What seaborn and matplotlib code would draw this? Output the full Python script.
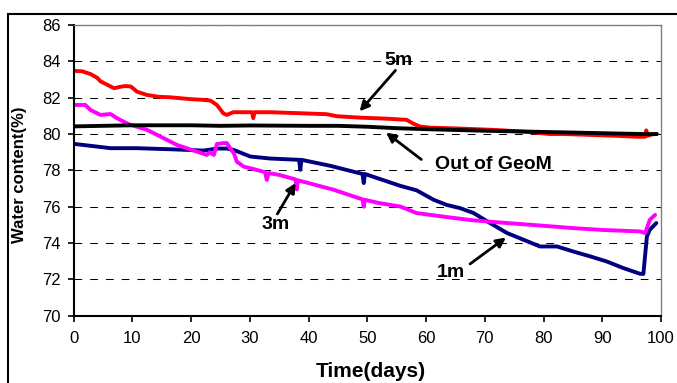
import matplotlib
matplotlib.use("Agg")
import matplotlib.pyplot as plt
import matplotlib.patches as mpatches
import pandas as pd
import seaborn as sns

# readings taken off the chart (day, water content %)
DAYS_5M = [0, 1.5, 2.9, 4.0, 4.6, 5.5, 6.9, 8.0, 8.8, 9.7, 10.2, 10.8, 12.5, 14.5,
           16.5, 19.9, 22.0, 23.3, 24.4, 25.5, 26.1, 27.2, 30.4, 30.6, 30.8, 33.5,
           38.0, 43.1, 44.8, 48.8, 53.0, 56.7, 57.9, 59.0, 60.7, 65.8, 72.0, 77.0,
           81.1, 83.4, 88.0, 92.5, 95.9, 97.3, 97.5, 97.7, 98.6, 99.2]
WC_5M = [83.48, 83.45, 83.3, 83.1, 82.9, 82.75, 82.52, 82.6, 82.64, 82.62, 82.5,
         82.33, 82.15, 82.05, 82.02, 81.92, 81.88, 81.84, 81.6, 81.14, 81.05, 81.2,
         81.2, 80.87, 81.2, 81.2, 81.15, 81.09, 80.98, 80.9, 80.85, 80.78, 80.56,
         80.41, 80.35, 80.3, 80.22, 80.12, 80.0, 80.0, 79.95, 79.9, 79.85, 79.85,
         80.2, 79.9, 80.0, 80.0]

DAYS_OUT = [0, 10, 20, 25, 30, 40, 45, 50, 55, 60.7, 70, 77.7, 85, 92, 98.6, 99.3]
WC_OUT = [80.42, 80.48, 80.48, 80.45, 80.47, 80.45, 80.45, 80.4, 80.32, 80.26,
          80.18, 80.13, 80.08, 80.03, 79.99, 80.0]

DAYS_3M = [0, 2.0, 2.9, 4.6, 6.3, 7.4, 9.4, 12.5, 14.8, 17.6, 21.0, 22.7, 23.2,
           23.9, 24.4, 25.5, 26.1, 26.7, 27.3, 27.8, 29.0, 30.1, 32.6, 32.9, 33.2,
           35.0, 37.8, 38.0, 38.2, 40.0, 44.3, 49.2, 49.4, 49.6, 52.0, 55.6, 58.4,
           63.5, 68.0, 73.8, 80.0, 85.1, 90.0, 96.4, 97.3, 98.1, 99.0]
WC_3M = [81.6, 81.6, 81.32, 81.05, 81.1, 80.87, 80.54, 80.23, 79.86, 79.4, 79.03,
         78.85, 79.0, 78.85, 79.45, 79.5, 79.5, 79.2, 78.94, 78.48, 78.2, 78.12,
         77.9, 77.47, 77.85, 77.75, 77.5, 76.95, 77.45, 77.3, 76.93, 76.4, 76.0,
         76.38, 76.2, 76.01, 75.65, 75.43, 75.25, 75.1, 74.95, 74.82, 74.72, 74.64,
         74.55, 75.28, 75.55]

DAYS_1M = [0, 2.9, 6.3, 10.8, 16.5, 22.2, 24.4, 26.1, 27.3, 30.1, 33.5, 38.4,
           38.6, 38.8, 43.7, 49.2, 49.4, 49.6, 55.6, 58.4, 61.3, 63.5, 65.8, 68.1,
           70.9, 73.8, 76.6, 79.4, 82.3, 85.1, 88.0, 90.8, 93.6, 96.4, 97.0, 97.6,
           98.1, 99.2]
WC_1M = [79.46, 79.35, 79.22, 79.22, 79.16, 79.09, 79.2, 79.2, 79.12, 78.76, 78.65,
         78.58, 78.03, 78.58, 78.25, 77.8, 77.3, 77.8, 77.15, 76.9, 76.38, 76.1,
         75.92, 75.65, 75.1, 74.55, 74.18, 73.81, 73.81, 73.53, 73.26, 72.98, 72.62,
         72.31, 72.3, 74.36, 74.73, 75.1]

X_TICKS = list(range(0, 101, 10))
Y_TICKS = list(range(70, 87, 2))

SERIES = [
    ("1m", DAYS_1M, WC_1M, "#000080"),
    ("3m", DAYS_3M, WC_3M, "#FF00FF"),
    ("5m", DAYS_5M, WC_5M, "#FF0000"),
    ("Out of GeoM", DAYS_OUT, WC_OUT, "#000000"),
]

# label text position, arrow tail, arrow head (data coords)
NOTES = [
    ("5m", (55.4, 84.05), (54.8, 83.5), (48.7, 81.25)),
    ("Out of GeoM", (61.6, 78.3), (59.2, 78.6), (53.2, 80.08)),
    ("3m", (34.4, 75.0), (34.7, 75.6), (37.8, 77.3)),
    ("1m", (64.3, 72.4), (67.5, 72.85), (73.6, 74.3)),
]

sns.set_theme(style="white")
plt.rcParams["font.family"] = ["Liberation Sans", "DejaVu Sans"]

fig = plt.figure(figsize=(6.77, 3.83), dpi=100)
ax = fig.add_axes([73.5 / 677, 1 - 315.7 / 383, (661 - 73.5) / 677, (315.7 - 25) / 383])

for name, days, wc, color in SERIES:
    frame = pd.DataFrame({"day": days, "wc": wc})
    sns.lineplot(data=frame, x="day", y="wc", color=color, lw=2.8,
                 estimator=None, ax=ax)

ax.set_xlim(0, 100)
ax.set_ylim(70, 86)
ax.set_xticks(X_TICKS)
ax.set_yticks(Y_TICKS)
ax.yaxis.grid(True, linestyle=(0, (7.4, 7.7)), color="black", lw=0.75)
ax.set_axisbelow(True)
ax.tick_params(direction="out", length=4, width=1.2, color="black",
               labelsize=12, labelcolor="black", left=True, bottom=True)
ax.tick_params(axis="y", pad=5)
ax.tick_params(axis="x", pad=7)
for side in ("left", "bottom"):
    ax.spines[side].set_color("black")
    ax.spines[side].set_linewidth(1.5)
for side in ("top", "right"):
    ax.spines[side].set_color("#808080")
    ax.spines[side].set_linewidth(1.0)

ax.set_xlabel("Time(days)", fontsize=15, fontweight="bold", color="black")
ax.set_ylabel("Water content(%)", fontsize=12, fontweight="bold", color="black")
ax.xaxis.set_label_coords(0.506, -0.16)
ax.yaxis.set_label_coords(-0.079, 0.484)

for text, txt_pos, tail, head in NOTES:
    ax.text(*txt_pos, text, fontsize=14, fontweight="bold",
            ha="left" if text.startswith("Out") else "center",
            va="center", color="black")
    ax.annotate("", xy=head, xytext=tail,
                arrowprops=dict(arrowstyle="-|>", lw=2, color="black", mutation_scale=14,
                                shrinkA=0, shrinkB=0))

# outer chart frame (right and bottom edges fall off the image)
fig.patches.append(mpatches.Rectangle((8 / 677, -0.1), 1.2, (383 - 14) / 383 + 0.1,
                                      transform=fig.transFigure, fill=False,
                                      edgecolor="black", lw=1.5))

fig.savefig("out.png", dpi=100)
